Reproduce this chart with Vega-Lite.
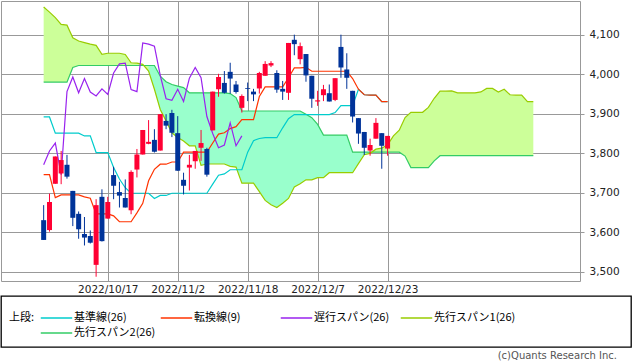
{
  "$schema": "https://vega.github.io/schema/vega-lite/v6.json",
  "padding": 0,
  "background": "white",
  "spacing": 15,
  "bounds": "flush",
  "config": {
    "view": {"stroke": null},
    "axis": {"labelFont": "DejaVu Sans", "labelFontSize": 10.5, "labelColor": "#222"}
  },
  "datasets": {
    "d": [
      {"i":0,"o":3631,"h":3669,"l":3581,"c":3581,"t":3746,"k":3892,"ch":3771,"a":4170,"b":3980},
      {"i":1,"o":3606,"h":3698,"l":3602,"c":3677,"t":3746,"k":3892,"ch":3806,"a":4157,"b":3980},
      {"i":2,"o":3723,"h":3792,"l":3723,"c":3792,"t":3688,"k":3851,"ch":3826,"a":4143,"b":3980},
      {"i":3,"o":3749,"h":3806,"l":3722,"c":3783,"t":3695,"k":3851,"ch":3746,"a":4126,"b":3980},
      {"i":4,"o":3771,"h":3796,"l":3736,"c":3741,"t":3695,"k":3851,"ch":3956,"a":4124,"b":3980},
      {"i":5,"o":3705,"h":3705,"l":3616,"c":3637,"t":3695,"k":3851,"ch":3993,"a":4092,"b":4017},
      {"i":6,"o":3647,"h":3653,"l":3584,"c":3608,"t":3695,"k":3851,"ch":3953,"a":4084,"b":4022},
      {"i":7,"o":3596,"h":3639,"l":3567,"c":3587,"t":3690,"k":3844,"ch":3989,"a":4080,"b":4022},
      {"i":8,"o":3591,"h":3605,"l":3572,"c":3574,"t":3686.5,"k":3844,"ch":3955,"a":4076,"b":4022},
      {"i":9,"o":3518,"h":3684,"l":3488,"c":3669,"t":3647,"k":3802,"ch":3945,"a":4073,"b":4022},
      {"i":10,"o":3690,"h":3709,"l":3577,"c":3578,"t":3647,"k":3802,"ch":3963,"a":4050,"b":4022},
      {"i":11,"o":3635,"h":3690,"l":3635,"c":3677,"t":3647,"k":3802,"ch":3949,"a":4053,"b":4022},
      {"i":12,"o":3745,"h":3766,"l":3684,"c":3718,"t":3642,"k":3764,"ch":4003,"a":4053,"b":4022},
      {"i":13,"o":3702,"h":3728,"l":3663,"c":3693,"t":3627,"k":3735,"ch":4026,"a":4053,"b":4022},
      {"i":14,"o":3687,"h":3734,"l":3663,"c":3663,"t":3627,"k":3713,"ch":4028,"a":4050,"b":4022},
      {"i":15,"o":3656,"h":3757,"l":3646,"c":3753,"t":3627,"k":3699,"ch":3961,"a":4029,"b":4022},
      {"i":16,"o":3759,"h":3811,"l":3739,"c":3797,"t":3649.5,"k":3699,"ch":3956,"a":4028,"b":4022},
      {"i":17,"o":3797,"h":3859,"l":3797,"c":3859,"t":3673.5,"k":3699,"ch":4079,"a":4025,"b":4022},
      {"i":18,"o":3824,"h":3884,"l":3823,"c":3829,"t":3730.5,"k":3699,"ch":4076,"a":4008,"b":4022},
      {"i":19,"o":3834,"h":3861,"l":3802,"c":3804,"t":3759.5,"k":3686,"ch":4071,"a":3962,"b":4022},
      {"i":20,"o":3807,"h":3899,"l":3807,"c":3899,"t":3772.5,"k":3693.5,"ch":3997,"a":3911,"b":3995},
      {"i":21,"o":3882,"h":3899,"l":3861,"c":3870,"t":3772.5,"k":3693.5,"ch":3938,"a":3882,"b":3981},
      {"i":22,"o":3902,"h":3910,"l":3841,"c":3852,"t":3778,"k":3699,"ch":3934,"a":3852,"b":3974},
      {"i":23,"o":3851,"h":3894,"l":3756,"c":3756,"t":3778,"k":3699,"ch":3962,"a":3840,"b":3970},
      {"i":24,"o":3733,"h":3751,"l":3696,"c":3718,"t":3803,"k":3699,"ch":3931,"a":3831,"b":3966},
      {"i":25,"o":3764,"h":3796,"l":3706,"c":3771,"t":3803,"k":3699,"ch":3990,"a":3819,"b":3953},
      {"i":26,"o":3780,"h":3806,"l":3761,"c":3806,"t":3803,"k":3699,"ch":4017,"a":3819,"b":3953},
      {"i":27,"o":3814,"h":3859,"l":3781,"c":3826,"t":3803,"k":3699,"ch":3991,"a":3769.5,"b":3953},
      {"i":28,"o":3811,"h":3814,"l":3741,"c":3746,"t":3803,"k":3699,"ch":3893,"a":3773,"b":3953},
      {"i":29,"o":3858,"h":3956,"l":3858,"c":3956,"t":3826,"k":3722,"ch":3850,"a":3773,"b":3953},
      {"i":30,"o":3962,"h":4001,"l":3943,"c":3993,"t":3848.5,"k":3744.5,"ch":3814,"a":3773,"b":3953},
      {"i":31,"o":3978,"h":4008,"l":3951,"c":3953,"t":3852,"k":3748,"ch":3821,"a":3773,"b":3953},
      {"i":32,"o":4006,"h":4029,"l":3951,"c":3989,"t":3862.5,"k":3758.5,"ch":3877,"a":3767,"b":3951},
      {"i":33,"o":3974,"h":3983,"l":3951,"c":3955,"t":3867.5,"k":3758.5,"ch":3819,"a":3765,"b":3941},
      {"i":34,"o":3915,"h":3949,"l":3903,"c":3945,"t":3885,"k":3758.5,"ch":3844,"a":3724.5,"b":3907},
      {"i":35,"o":3965,"h":3979,"l":3932,"c":3963,"t":3885,"k":3803,"a":3724.5,"b":3907},
      {"i":36,"o":3956,"h":3963,"l":3932,"c":3949,"t":3885,"k":3832,"a":3724.5,"b":3907},
      {"i":37,"o":3964,"h":4006,"l":3951,"c":4003,"t":3943.5,"k":3837.5,"a":3703,"b":3907},
      {"i":38,"o":3996,"h":4033,"l":3996,"c":4026,"t":3968,"k":3839.5,"a":3681,"b":3907},
      {"i":39,"o":4022,"h":4033,"l":4018,"c":4028,"t":3968,"k":3839.5,"a":3670,"b":3907},
      {"i":40,"o":4003,"h":4010,"l":3953,"c":3961,"t":3968,"k":3839.5,"a":3663,"b":3907},
      {"i":41,"o":3963,"h":3983,"l":3935,"c":3956,"t":3968,"k":3864.5,"a":3674,"b":3907},
      {"i":42,"o":3953,"h":4079,"l":3935,"c":4079,"t":3991,"k":3887.5,"a":3686,"b":3907},
      {"i":43,"o":4087,"h":4100,"l":4048,"c":4076,"t":4016,"k":3898,"a":3715,"b":3907},
      {"i":44,"o":4038,"h":4080,"l":4025,"c":4071,"t":4016,"k":3898,"a":3723,"b":3907},
      {"i":45,"o":4051,"h":4051,"l":3981,"c":3997,"t":4017.5,"k":3898,"a":3733,"b":3899},
      {"i":46,"o":3996,"h":3996,"l":3915,"c":3938,"t":4007.5,"k":3898,"a":3733,"b":3890},
      {"i":47,"o":3931,"h":3958,"l":3920,"c":3934,"t":4007.5,"k":3898,"a":3738.5,"b":3873},
      {"i":48,"o":3947,"h":3973,"l":3932,"c":3962,"t":4007.5,"k":3898,"a":3738.5,"b":3846},
      {"i":49,"o":3952,"h":3974,"l":3931,"c":3931,"t":4007.5,"k":3898,"a":3751,"b":3846},
      {"i":50,"o":3935,"h":3990,"l":3932,"c":3990,"t":4007.5,"k":3903,"a":3751,"b":3846},
      {"i":51,"o":4069,"h":4100,"l":3991,"c":4017,"t":4007.5,"k":3920.5,"a":3751,"b":3846},
      {"i":52,"o":4012,"h":4053,"l":3963,"c":3991,"t":4007.5,"k":3920.5,"a":3751,"b":3846},
      {"i":53,"o":3958,"h":3958,"l":3878,"c":3893,"t":3989,"k":3920.5,"a":3751,"b":3803},
      {"i":54,"o":3889,"h":3889,"l":3824,"c":3850,"t":3962,"k":3962,"a":3774,"b":3803},
      {"i":55,"o":3854,"h":3854,"l":3796,"c":3814,"t":3948,"k":3948,"a":3796.5,"b":3803},
      {"i":56,"o":3807,"h":3837,"l":3794,"c":3821,"t":3947,"k":3947,"a":3800,"b":3803},
      {"i":57,"o":3837,"h":3889,"l":3837,"c":3877,"t":3947,"k":3947,"a":3810.5,"b":3803},
      {"i":58,"o":3851,"h":3851,"l":3761,"c":3819,"t":3930.5,"k":3930.5,"a":3813,"b":3803},
      {"i":59,"o":3812,"h":3844,"l":3794,"c":3844,"t":3930.5,"k":3930.5,"a":3821.75,"b":3803},
      {"i":60,"a":3844,"b":3803},
      {"i":61,"a":3858.5,"b":3803},
      {"i":62,"a":3890.5,"b":3793},
      {"i":63,"a":3903.75,"b":3764},
      {"i":64,"a":3903.75,"b":3764},
      {"i":65,"a":3903.75,"b":3764},
      {"i":66,"a":3916.25,"b":3764},
      {"i":67,"a":3939.25,"b":3781},
      {"i":68,"a":3957,"b":3794},
      {"i":69,"a":3957,"b":3794},
      {"i":70,"a":3957.75,"b":3794},
      {"i":71,"a":3952.75,"b":3794},
      {"i":72,"a":3952.75,"b":3794},
      {"i":73,"a":3952.75,"b":3794},
      {"i":74,"a":3952.75,"b":3794},
      {"i":75,"a":3955.25,"b":3794},
      {"i":76,"a":3964,"b":3794},
      {"i":77,"a":3964,"b":3794},
      {"i":78,"a":3954.75,"b":3794},
      {"i":79,"a":3962,"b":3794},
      {"i":80,"a":3948,"b":3794},
      {"i":81,"a":3947,"b":3794},
      {"i":82,"a":3947,"b":3794},
      {"i":83,"a":3930.5,"b":3794},
      {"i":84,"a":3930.5,"b":3794}
    ]
  },
  "vconcat": [
    {
      "width": 579,
      "height": 280,
      "view": {"stroke": "#999999", "strokeWidth": 1},
      "data": {"name": "d"},
      "encoding": {
        "x": {
          "field": "i", "type": "quantitative",
          "scale": {"domain": [-6.46, 91.15], "nice": false, "zero": false},
          "axis": {
            "title": null, "orient": "bottom", "values": [11, 23, 35, 47, 59],
            "grid": true, "gridColor": "#999999", "gridWidth": 1,
            "ticks": false, "tickSize": 0, "domain": false,
            "labelPadding": 3.5, "labelDx": 3, "labelFlush": false, "labelOverlap": false,
            "labelExpr": "datum.value==11?'2022/10/17':datum.value==23?'2022/11/2':datum.value==35?'2022/11/18':datum.value==47?'2022/12/7':'2022/12/23'"
          }
        }
      },
      "layer": [
        {
          "mark": {"type": "area", "color": "#ccff99", "opacity": 1},
          "encoding": {
            "y": {
              "field": "a", "type": "quantitative",
              "scale": {"domain": [3477.2, 4185.1], "nice": false, "zero": false},
              "axis": {
                "title": null, "orient": "right", "values": [3500, 3600, 3700, 3800, 3900, 4000, 4100],
                "format": ",d", "grid": true, "gridColor": "#999999", "gridWidth": 1,
                "ticks": true, "tickSize": 4, "tickColor": "#999999", "domain": false,
                "labelPadding": 5
              }
            },
            "y2": {"field": "b"}
          }
        },
        {
          "transform": [{"filter": "datum.b > datum.a"}],
          "mark": {"type": "area", "color": "#99ffcc", "opacity": 1},
          "encoding": {
            "y": {"field": "a", "type": "quantitative", "title": null, "scale": {"domain": [3477.2, 4185.1], "nice": false, "zero": false}},
            "y2": {"field": "b"}
          }
        },
        {
          "mark": {"type": "line", "color": "#33cc66", "strokeWidth": 1.2},
          "encoding": {"y": {"field": "b", "type": "quantitative", "title": null, "scale": {"domain": [3477.2, 4185.1], "nice": false, "zero": false}}}
        },
        {
          "mark": {"type": "line", "color": "#99cc00", "strokeWidth": 1.2},
          "encoding": {"y": {"field": "a", "type": "quantitative", "title": null, "scale": {"domain": [3477.2, 4185.1], "nice": false, "zero": false}}}
        },
        {
          "mark": {"type": "line", "color": "#00cccc", "strokeWidth": 1.2},
          "encoding": {"y": {"field": "k", "type": "quantitative", "title": null, "scale": {"domain": [3477.2, 4185.1], "nice": false, "zero": false}}}
        },
        {
          "mark": {"type": "line", "color": "#ff3300", "strokeWidth": 1.2},
          "encoding": {"y": {"field": "t", "type": "quantitative", "title": null, "scale": {"domain": [3477.2, 4185.1], "nice": false, "zero": false}}}
        },
        {
          "mark": {"type": "line", "color": "#9922ee", "strokeWidth": 1.2},
          "encoding": {"y": {"field": "ch", "type": "quantitative", "title": null, "scale": {"domain": [3477.2, 4185.1], "nice": false, "zero": false}}}
        },
        {
          "mark": {"type": "rule", "strokeWidth": 1},
          "encoding": {
            "y": {"field": "l", "type": "quantitative", "title": null, "scale": {"domain": [3477.2, 4185.1], "nice": false, "zero": false}},
            "y2": {"field": "h"},
            "color": {"condition": {"test": "datum.c > datum.o", "value": "#ff0033"}, "value": "#003399"}
          }
        },
        {
          "mark": {"type": "bar", "size": 5},
          "encoding": {
            "y": {"field": "o", "type": "quantitative", "title": null, "scale": {"domain": [3477.2, 4185.1], "nice": false, "zero": false}},
            "y2": {"field": "c"},
            "color": {"condition": {"test": "datum.c > datum.o", "value": "#ff0033"}, "value": "#003399"}
          }
        }
      ]
    },
    {
      "width": 630,
      "height": 51,
      "view": {"stroke": "black", "strokeWidth": 1.3},
      "data": {"values": [{"s": "k"}, {"s": "t"}, {"s": "ch"}, {"s": "a"}, {"s": "b"}]},
      "mark": {"type": "point", "opacity": 0},
      "encoding": {
        "color": {
          "field": "s", "type": "nominal",
          "scale": {"domain": ["k", "t", "ch", "a", "b"], "range": ["#00cccc", "#ff3300", "#9922ee", "#99cc00", "#33cc66"]},
          "legend": {
            "orient": "none", "legendX": 8, "legendY": 311, "direction": "horizontal",
            "title": "上段:", "titleOrient": "left", "titleAnchor": "start",
            "titleFont": "Noto Sans CJK JP", "titleFontSize": 11, "titleFontWeight": "normal", "titleColor": "black", "titlePadding": 5,
            "columns": 4, "gridAlign": "all", "columnPadding": 2, "rowPadding": 4,
            "symbolType": "M-1,0H5", "symbolSize": 110, "symbolStrokeWidth": 1.5, "symbolOpacity": 1,
            "labelFont": "Noto Sans CJK JP", "labelFontSize": 11, "labelColor": "black", "labelOffset": 22,
            "labelExpr": "datum.value=='k'?'基準線(26)':datum.value=='t'?'転換線(9)':datum.value=='ch'?'遅行スパン(26)':datum.value=='a'?'先行スパン1(26)':'先行スパン2(26)'"
          }
        }
      },
      "title": {
        "text": "(c)Quants Research Inc.", "orient": "bottom", "anchor": "end",
        "font": "DejaVu Sans", "fontSize": 10, "fontWeight": "normal", "color": "#555555",
        "offset": 4, "dx": -14
      }
    }
  ]
}
